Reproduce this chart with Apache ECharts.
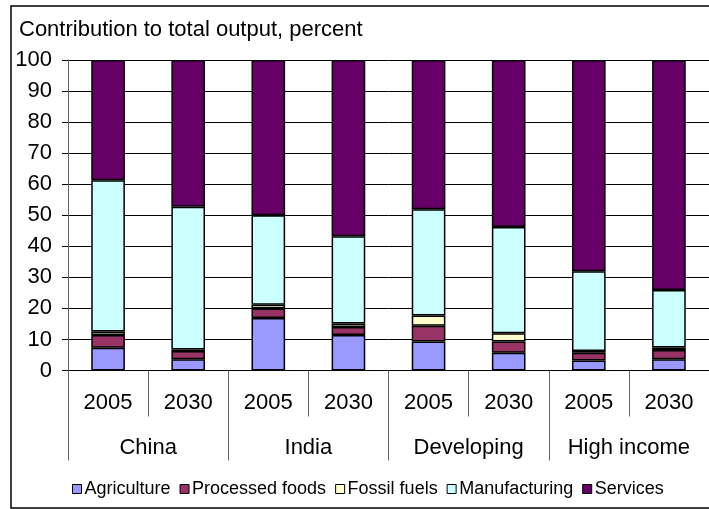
<!DOCTYPE html>
<html><head><meta charset="utf-8">
<script src="https://cdn.jsdelivr.net/npm/echarts@6/dist/echarts.min.js"></script>
<style>html,body{margin:0;padding:0;background:#fff}#c{width:709px;height:509px}</style>
</head><body><div id="c"></div>
<script>
const years = ['2005','2030','2005','2030','2005','2030','2005','2030'];
const groups = ['China','India','Developing','High income'];
const yTicks = [0,10,20,30,40,50,60,70,80,90,100];
const agriculture   = [7.3, 3.6, 16.9, 11.4, 9.3, 5.7, 3.2, 3.6];
const processedFoods= [4.1, 2.7, 3.1, 2.6, 5.1, 3.6, 2.5, 3.0];
const fossilFuels   = [1.2, 0.5, 1.2, 1.1, 3.3, 2.7, 0.6, 0.8];
const manufacturing = [48.7, 45.9, 28.8, 28.1, 34.2, 34.2, 25.7, 18.5];
const services      = [38.7, 47.3, 50.0, 56.8, 48.1, 53.8, 68.0, 74.1];
const names = ['Agriculture','Processed foods','Fossil fuels','Manufacturing','Services'];
const colors = ['#9999FF','#993366','#FFFFCC','#CCFFFF','#660066'];
const dataSets = [agriculture, processedFoods, fossilFuels, manufacturing, services];

const FONT = 'Liberation Sans, Arial, sans-serif';
const chart = echarts.init(document.getElementById('c'), null, {renderer:'canvas'});
chart.setOption({
  animation:false,
  backgroundColor:'#fff',
  textStyle:{fontFamily:FONT},
  title:{text:'Contribution to total output, percent', left:19, top:19, padding:0,
    textStyle:{fontFamily:FONT, fontSize:22, fontWeight:'normal', color:'#000'}},
  legend:{data:names, left:72, top:480, padding:0, itemWidth:9, itemHeight:9, itemGap:9,
    icon:'rect', textStyle:{fontFamily:FONT, fontSize:18, color:'#000', padding:[0,0,0,-2]},
    itemStyle:{borderColor:'#000', borderWidth:1}},
  grid:{left:68, top:60, width:648, bottom:138.5, containLabel:false},
  xAxis:[
    {type:'category', data:years, position:'bottom', gridIndex:0,
     axisLine:{show:true, lineStyle:{color:'#000', width:1}},
     axisTick:{show:true, length:46, interval:0, lineStyle:{color:'#666'}},
     axisLabel:{interval:0, margin:21, fontFamily:FONT, fontSize:22, color:'#000'}},
    {type:'category', data:groups, position:'bottom', gridIndex:0,
     axisLine:{show:false},
     axisTick:{show:true, length:90, interval:0, lineStyle:{color:'#666'}},
     axisLabel:{interval:0, margin:66, fontFamily:FONT, fontSize:22, color:'#000'}}
  ],
  yAxis:{type:'value', min:yTicks[0], max:yTicks[yTicks.length-1], interval:10,
    axisLine:{show:true, lineStyle:{color:'#666'}},
    axisTick:{show:true, length:6, lineStyle:{color:'#000'}},
    axisLabel:{fontFamily:FONT, fontSize:22, color:'#000', margin:16},
    splitLine:{show:true, lineStyle:{color:'#000', width:1}}},
  graphic:[{type:'rect', shape:{x:11, y:6, width:760, height:502},
    style:{fill:'none', stroke:'#000', lineWidth:1.5}, z:100, silent:true}],
  series: dataSets.map((d,i)=>({
    name:names[i], type:'bar', stack:'total', xAxisIndex:0, data:d,
    barWidth:'42%',
    itemStyle:{color:colors[i], borderColor:'#000', borderWidth:1.5}
  }))
});
</script></body></html>
